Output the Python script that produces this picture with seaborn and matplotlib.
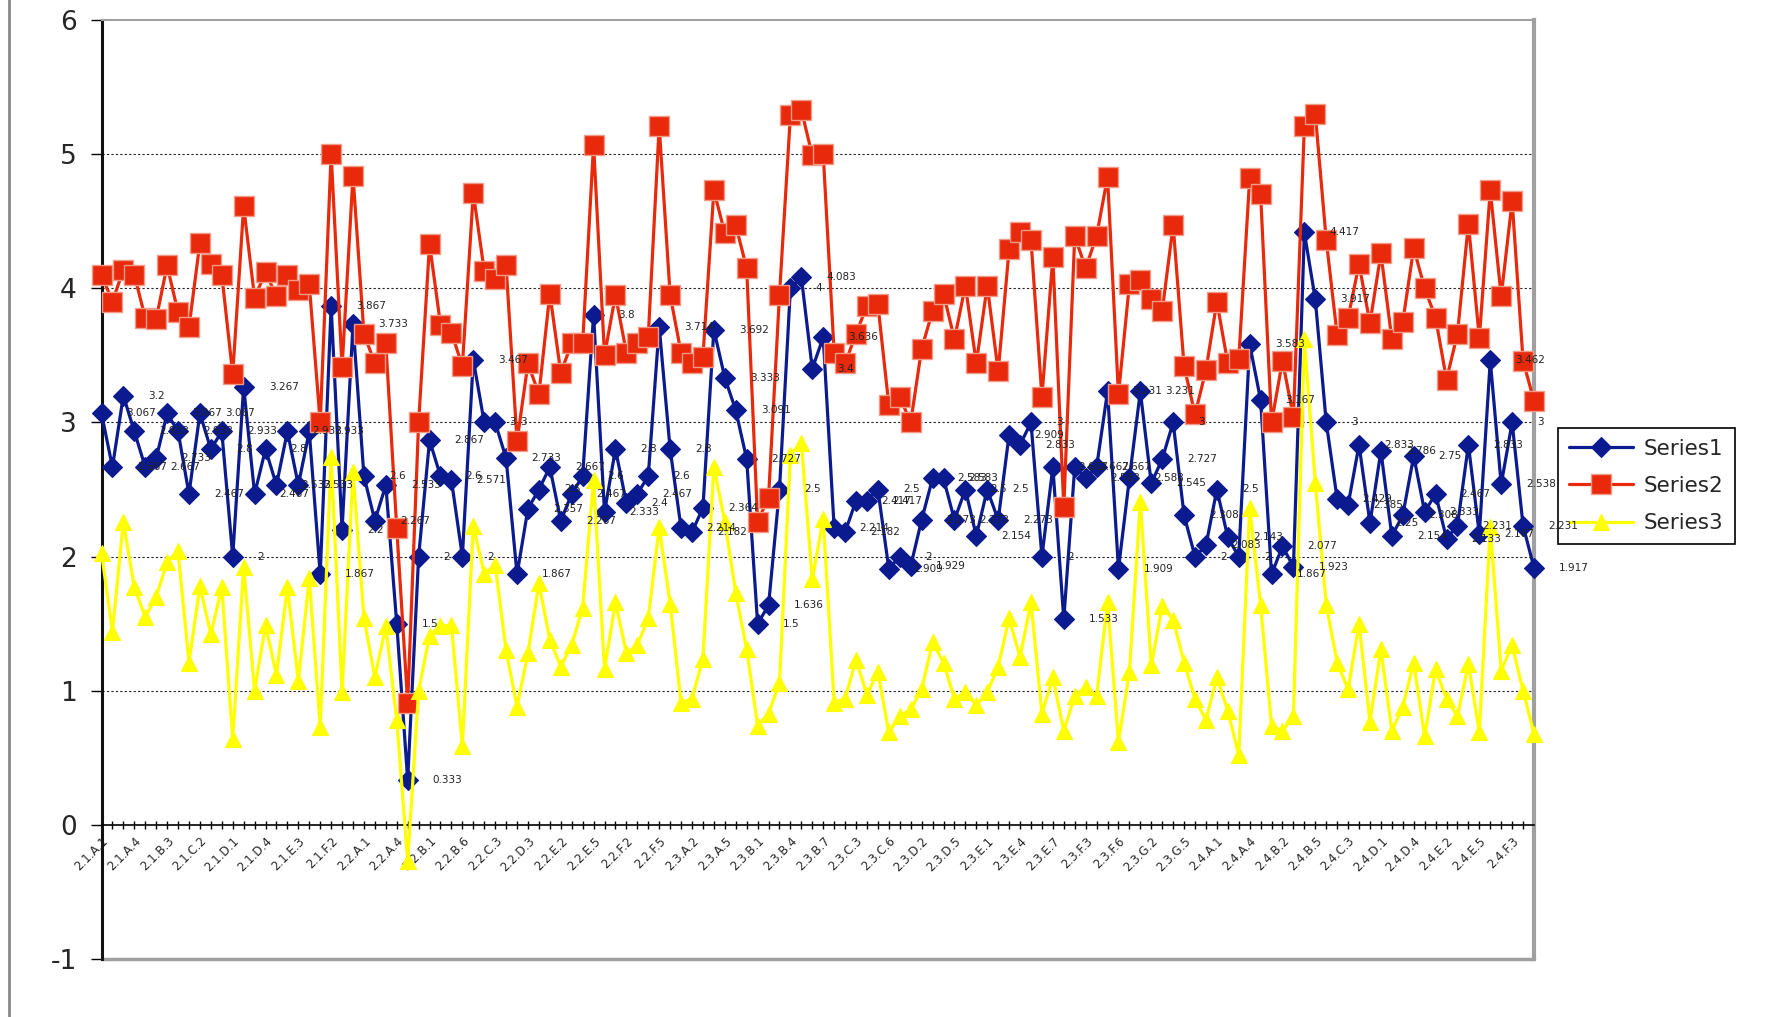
import numpy as np
import pandas as pd
import matplotlib
matplotlib.use("Agg")
import matplotlib.pyplot as plt
import seaborn as sns
from matplotlib.lines import Line2D

# ---------------- data ----------------
categories = [
    "2.1.A.1", "2.1.A.2", "2.1.A.3", "2.1.A.4", "2.1.B.1", "2.1.B.2", "2.1.B.3", "2.1.B.4",
    "2.1.C.1", "2.1.C.2", "2.1.C.3", "2.1.C.4", "2.1.D.1", "2.1.D.2", "2.1.D.3", "2.1.D.4",
    "2.1.E.1", "2.1.E.2", "2.1.E.3", "2.1.E.4", "2.1.F.1", "2.1.F.2", "2.1.F.3", "2.1.F.4",
    "2.2.A.1", "2.2.A.2", "2.2.A.3", "2.2.A.4", "2.2.A.5", "2.2.A.6",
    "2.2.B.1", "2.2.B.2", "2.2.B.5", "2.2.B.6",
    "2.2.C.1", "2.2.C.2", "2.2.C.3",
    "2.2.D.1", "2.2.D.2", "2.2.D.3", "2.2.D.4",
    "2.2.E.1", "2.2.E.2", "2.2.E.3", "2.2.E.4", "2.2.E.5", "2.2.E.6",
    "2.2.F.1", "2.2.F.2", "2.2.F.3", "2.2.F.4", "2.2.F.5", "2.2.F.6",
    "2.3.A.1", "2.3.A.2", "2.3.A.3", "2.3.A.4", "2.3.A.5", "2.3.A.6", "2.3.A.7",
    "2.3.B.1", "2.3.B.2", "2.3.B.3", "2.3.B.4", "2.3.B.5", "2.3.B.6", "2.3.B.7",
    "2.3.C.1", "2.3.C.2", "2.3.C.3", "2.3.C.4", "2.3.C.5", "2.3.C.6", "2.3.C.7",
    "2.3.D.1", "2.3.D.2", "2.3.D.3", "2.3.D.4", "2.3.D.5", "2.3.D.6", "2.3.D.7",
    "2.3.E.1", "2.3.E.2", "2.3.E.3", "2.3.E.4", "2.3.E.5", "2.3.E.6", "2.3.E.7",
    "2.3.F.1", "2.3.F.2", "2.3.F.3", "2.3.F.4", "2.3.F.5", "2.3.F.6", "2.3.F.7",
    "2.3.G.1", "2.3.G.2", "2.3.G.3", "2.3.G.4", "2.3.G.5", "2.3.G.6", "2.3.G.7",
    "2.4.A.1", "2.4.A.2", "2.4.A.3", "2.4.A.4", "2.4.A.5",
    "2.4.B.1", "2.4.B.2", "2.4.B.3", "2.4.B.4", "2.4.B.5",
    "2.4.C.1", "2.4.C.2", "2.4.C.3", "2.4.C.4", "2.4.C.5",
    "2.4.D.1", "2.4.D.2", "2.4.D.3", "2.4.D.4", "2.4.D.5",
    "2.4.E.1", "2.4.E.2", "2.4.E.3", "2.4.E.4", "2.4.E.5",
    "2.4.F.1", "2.4.F.2", "2.4.F.3", "2.4.F.4", "2.4.F.5",
]

series1 = [
    3.067, 2.667, 3.2, 2.933, 2.667, 2.733, 3.067, 2.933, 2.467, 3.067,
    2.8, 2.933, 2, 3.267, 2.467, 2.8, 2.533, 2.933, 2.533, 2.933,
    1.867, 3.867, 2.2, 3.733, 2.6, 2.267, 2.533, 1.5, 0.333, 2,
    2.867, 2.6, 2.571, 2, 3.467, 3, 3, 2.733, 1.867, 2.357,
    2.5, 2.667, 2.267, 2.467, 2.6, 3.8, 2.333, 2.8, 2.4, 2.467,
    2.6, 3.714, 2.8, 2.214, 2.182, 2.364, 3.692, 3.333, 3.091, 2.727,
    1.5, 1.636, 2.5, 4, 4.083, 3.4, 3.636, 2.214, 2.182, 2.417,
    2.417, 2.5, 1.909, 2, 1.929, 2.273, 2.583, 2.583, 2.273, 2.5,
    2.154, 2.5, 2.273, 2.909, 2.833, 3, 2, 2.667, 1.533, 2.667,
    2.583, 2.667, 3.231, 1.909, 2.583, 3.231, 2.545, 2.727, 3, 2.308,
    2, 2.083, 2.5, 2.143, 2, 3.583, 3.167, 1.867, 2.077, 1.923,
    4.417, 3.917, 3, 2.429, 2.385, 2.833, 2.25, 2.786, 2.154, 2.308,
    2.75, 2.333, 2.467, 2.133, 2.231, 2.833, 2.167, 3.462, 2.538, 3,
    2.231, 1.917,
]

series2 = [
    4.10, 3.90, 4.14, 4.10, 3.78, 3.77, 4.17, 3.82, 3.71, 4.34,
    4.18, 4.10, 3.36, 4.61, 3.93, 4.12, 3.94, 4.10, 3.99, 4.03,
    3.00, 5.00, 3.41, 4.84, 3.66, 3.44, 3.59, 2.21, 0.91, 3.00,
    4.33, 3.73, 3.67, 3.42, 4.71, 4.13, 4.07, 4.17, 2.86, 3.44,
    3.21, 3.96, 3.37, 3.59, 3.59, 5.07, 3.50, 3.95, 3.52, 3.59,
    3.64, 5.21, 3.95, 3.52, 3.44, 3.49, 4.73, 4.41, 4.47, 4.15,
    2.26, 2.44, 3.95, 5.29, 5.33, 4.99, 5.00, 3.52, 3.44, 3.66,
    3.87, 3.88, 3.13, 3.19, 3.00, 3.55, 3.83, 3.96, 3.62, 4.02,
    3.44, 4.02, 3.38, 4.29, 4.42, 4.36, 3.19, 4.23, 2.37, 4.39,
    4.15, 4.39, 4.83, 3.21, 4.03, 4.06, 3.92, 3.83, 4.47, 3.42,
    3.06, 3.39, 3.90, 3.44, 3.47, 4.82, 4.70, 3.00, 3.46, 3.04,
    5.21, 5.30, 4.36, 3.65, 3.78, 4.18, 3.74, 4.26, 3.62, 3.75,
    4.30, 4.00, 3.78, 3.32, 3.66, 4.48, 3.63, 4.73, 3.94, 4.65,
    3.46, 3.16,
]

series3 = [
    2.03, 1.44, 2.26, 1.77, 1.55, 1.70, 1.96, 2.04, 1.21, 1.78,
    1.42, 1.77, 0.64, 1.92, 1.00, 1.49, 1.12, 1.77, 1.07, 1.84,
    0.73, 2.74, 0.99, 2.63, 1.54, 1.10, 1.48, 0.78, -0.27, 1.00,
    1.41, 1.48, 1.49, 0.59, 2.23, 1.87, 1.94, 1.30, 0.88, 1.28,
    1.80, 1.38, 1.18, 1.34, 1.62, 2.57, 1.16, 1.66, 1.28, 1.34,
    1.54, 2.22, 1.65, 0.91, 0.94, 1.24, 2.67, 2.26, 1.73, 1.31,
    0.74, 0.83, 1.06, 2.76, 2.85, 1.83, 2.28, 0.91, 0.94, 1.23,
    0.97, 1.14, 0.69, 0.81, 0.86, 1.01, 1.36, 1.21, 0.94, 0.99,
    0.89, 0.99, 1.18, 1.54, 1.25, 1.66, 0.83, 1.10, 0.70, 0.96,
    1.03, 0.96, 1.66, 0.62, 1.14, 2.41, 1.19, 1.63, 1.53, 1.21,
    0.94, 0.78, 1.10, 0.85, 0.52, 2.36, 1.64, 0.74, 0.70, 0.81,
    3.62, 2.55, 1.64, 1.21, 1.01, 1.50, 0.77, 1.31, 0.70, 0.88,
    1.21, 0.66, 1.16, 0.94, 0.81, 1.20, 0.69, 2.22, 1.15, 1.34,
    1.00, 0.68,
]

series_names = ["Series1", "Series2", "Series3"]
y_ticks = [-1, 0, 1, 2, 3, 4, 5, 6]
label_every = 3

# ---------------- styling ----------------
sns.set_theme(style="white")
plt.rcParams["font.family"] = ["DejaVu Sans"]

W, H = 1769, 1017
fig = plt.figure(figsize=(W / 100, H / 100), dpi=100)
fig.patch.set_facecolor("white")
left_px, right_px, top_px, bottom_px = 101.5, 1534, 20, 959
ax = fig.add_axes([left_px / W, 1 - bottom_px / H,
                   (right_px - left_px) / W, (bottom_px - top_px) / H])
ax.set_facecolor("white")

# spine positions first (set_position resets tick objects)
ax.spines["bottom"].set_position(("data", 0))

pos = np.arange(len(categories))
df = pd.DataFrame({"pos": pos, "category": categories,
                   "Series1": series1, "Series2": series2, "Series3": series3})

styles = {
    "Series1": dict(color="#0b1a8e", marker="D", markersize=10, mec="#0b1a8e",
                    mew=0.8, lw=2.3, zorder=3),
    "Series2": dict(color="#e8290b", marker="s", markersize=14, mec="#f29a88",
                    mew=1.0, lw=2.3, zorder=4),
    "Series3": dict(color="#ffff00", marker="^", markersize=12, mec="#ffff00",
                    mew=0.8, lw=2.3, zorder=5),
}

for name in series_names:
    st = styles[name]
    sns.lineplot(data=df, x="pos", y=name, ax=ax, sort=False, label=name,
                 color=st["color"], marker=st["marker"], markersize=st["markersize"],
                 markeredgecolor=st["mec"], markeredgewidth=st["mew"],
                 linewidth=st["lw"], zorder=st["zorder"], clip_on=False)

# data labels for Series1
for xi, v in zip(pos, series1):
    ax.annotate(f"{v:g}", (xi, v), xytext=(18, 0), textcoords="offset points",
                ha="left", va="center", fontsize=7.5, color="#222222", zorder=7)

# gridlines
for v in [1, 2, 3, 4, 5]:
    ax.axhline(v, color="#222222", lw=0.8, ls=(0, (2, 2)), zorder=1)

ax.set_xlim(0, len(categories) - 1)
ax.set_ylim(-1, 6)
ax.set_xlabel("")
ax.set_ylabel("")

ax.set_yticks(y_ticks)
ax.set_yticklabels([str(t) for t in y_ticks], fontsize=19)
ax.tick_params(axis="y", direction="out", length=8, width=1, color="black",
               pad=10, left=True)

ax.set_xticks(pos)
ax.set_xticklabels([c if i % label_every == 0 else "" for i, c in enumerate(categories)],
                   rotation=45, ha="right", rotation_mode="anchor", fontsize=8.5)
ax.tick_params(axis="x", direction="inout", length=6, width=1, color="black",
               pad=4, bottom=True)

# spines / frame
ax.spines["bottom"].set_color("black")
ax.spines["bottom"].set_linewidth(1.2)
ax.spines["left"].set_color("#111111")
ax.spines["left"].set_linewidth(2.2)
ax.spines["top"].set_color("#a0a0a0")
ax.spines["top"].set_linewidth(1.5)
ax.spines["right"].set_color("#a0a0a0")
ax.spines["right"].set_linewidth(3)
ax.axhline(-1, color="#a0a0a0", lw=2.5, zorder=2, clip_on=False)

# legend
leg = ax.legend(loc="upper left", bbox_to_anchor=(1558 / W, 1 - 428 / H),
                bbox_transform=fig.transFigure, fontsize=15.5, frameon=True,
                fancybox=False, edgecolor="black", framealpha=1, borderaxespad=0,
                handlelength=3.0, numpoints=1, labelspacing=0.8, borderpad=0.5,
                handletextpad=0.5)
leg.get_frame().set_linewidth(1.2)

# thin border at the far left of the image
fig.add_artist(Line2D([9 / W, 9 / W], [0.0, 1.0], transform=fig.transFigure,
                      color="#8a8a8a", lw=2))

fig.savefig("out.png", dpi=100, facecolor="white")
